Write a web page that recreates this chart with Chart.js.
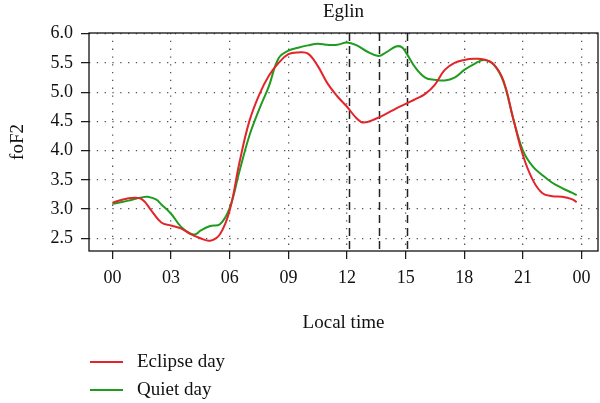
<!DOCTYPE html>
<html>
<head>
<meta charset="utf-8">
<script src="https://cdn.jsdelivr.net/npm/chart.js@4.4.0/dist/chart.umd.min.js"></script>
<style>
  html, body { margin: 0; padding: 0; background: #fff; }
</style>
</head>
<body>
<canvas id="foChart" width="600" height="403"></canvas>
<script>
// local time (h) and foF2 (MHz)
const eclipseHours = [0, 0.5, 1, 1.5, 2, 2.5, 3, 3.5, 4, 4.5, 5, 5.5, 6, 6.5, 7, 7.5, 8, 8.5, 9, 9.5, 10, 10.5, 11, 11.5, 12, 12.5, 12.85, 13.5, 14, 14.5, 15, 15.5, 16, 16.5, 17, 17.5, 18, 18.5, 19, 19.5, 20, 20.5, 21, 21.5, 22, 22.5, 23, 23.5, 23.75];
const eclipseFoF2 = [3.11, 3.16, 3.19, 3.17, 2.97, 2.77, 2.72, 2.67, 2.57, 2.50, 2.46, 2.57, 2.98, 3.80, 4.50, 4.95, 5.28, 5.50, 5.65, 5.68, 5.66, 5.45, 5.15, 4.93, 4.75, 4.55, 4.48, 4.55, 4.63, 4.72, 4.80, 4.88, 4.97, 5.13, 5.38, 5.50, 5.55, 5.57, 5.56, 5.48, 5.20, 4.55, 3.92, 3.50, 3.27, 3.22, 3.21, 3.17, 3.12];

const quietHours = [0, 0.5, 1, 1.5, 1.8, 2.25, 2.5, 3, 3.5, 4, 4.25, 4.5, 5, 5.5, 6, 6.5, 7, 7.5, 8, 8.5, 9, 9.5, 10, 10.5, 11, 11.5, 12, 12.5, 13, 13.6, 14, 14.5, 14.8, 15.05, 15.5, 16, 16.5, 17, 17.5, 18, 18.5, 19, 19.5, 20, 20.5, 21, 21.5, 22, 22.5, 23, 23.5, 23.75];
const quietFoF2 = [3.09, 3.12, 3.16, 3.20, 3.21, 3.16, 3.08, 2.92, 2.70, 2.58, 2.57, 2.63, 2.71, 2.74, 3.02, 3.65, 4.25, 4.70, 5.10, 5.58, 5.71, 5.76, 5.80, 5.83, 5.81, 5.81, 5.85, 5.80, 5.70, 5.62, 5.68, 5.78, 5.77, 5.66, 5.42, 5.25, 5.21, 5.20, 5.25, 5.38, 5.48, 5.55, 5.47, 5.18, 4.55, 4.00, 3.73, 3.58, 3.45, 3.36, 3.28, 3.24];

const xTicks = [0, 3, 6, 9, 12, 15, 18, 21, 24];
const yTicks = [2.5, 3.0, 3.5, 4.0, 4.5, 5.0, 5.5, 6.0];
// eclipse start, maximum, end
const eclipseTimes = [12.1, 13.63, 15.05];

const seriesNames = ["Eclipse day", "Quiet day"];
const seriesColors = ["#e3242b", "#1f9c1f"];

const serif = '"Liberation Serif", "DejaVu Serif", serif';

const toPoints = (xs, ys) => xs.map((x, i) => ({ x: x, y: ys[i] }));

const frame = {
  id: "frame",
  beforeDatasetsDraw(chart) {
    const { ctx, chartArea, scales } = chart;
    ctx.save();
    ctx.strokeStyle = "#222";
    ctx.lineWidth = 1.5;
    ctx.setLineDash([8, 5]);
    eclipseTimes.forEach((t) => {
      const px = Math.round(scales.x.getPixelForValue(t)) + 0.5;
      ctx.beginPath();
      ctx.moveTo(px, chartArea.top);
      ctx.lineTo(px, chartArea.bottom);
      ctx.stroke();
    });
    ctx.restore();
  },
  afterDraw(chart) {
    const { ctx, chartArea } = chart;
    ctx.save();
    ctx.strokeStyle = "#111";
    ctx.lineWidth = 1.3;
    ctx.strokeRect(chartArea.left, chartArea.top, chartArea.right - chartArea.left, chartArea.bottom - chartArea.top);

    const midX = (chartArea.left + chartArea.right) / 2;
    ctx.fillStyle = "#111";
    ctx.textAlign = "center";
    ctx.textBaseline = "middle";
    ctx.font = "19px " + serif;
    ctx.fillText("Eglin", midX, 12);
    ctx.fillText("Local time", midX, 323);

    ctx.save();
    ctx.translate(18, 142);
    ctx.rotate(-Math.PI / 2);
    ctx.fillText("foF2", 0, 0);
    ctx.restore();

    // legend
    const rows = [362, 390];
    ctx.textAlign = "left";
    rows.forEach((y, i) => {
      ctx.strokeStyle = seriesColors[i];
      ctx.lineWidth = 2;
      ctx.beginPath();
      ctx.moveTo(90, y);
      ctx.lineTo(123, y);
      ctx.stroke();
      ctx.fillStyle = "#111";
      ctx.fillText(seriesNames[i], 137, y);
    });
    ctx.restore();
  },
};

const gridOpts = {
  color: "#555",
  tickBorderDash: [],
  tickColor: "#111",
  tickLength: 8,
  tickWidth: 1.2,
  lineWidth: 1.3,
};

new Chart(document.getElementById("foChart"), {
  type: "line",
  data: {
    datasets: [
      {
        label: seriesNames[0],
        data: toPoints(eclipseHours, eclipseFoF2),
        borderColor: seriesColors[0],
        borderWidth: 2,
        pointRadius: 0,
        tension: 0.4,
      },
      {
        label: seriesNames[1],
        data: toPoints(quietHours, quietFoF2),
        borderColor: seriesColors[1],
        borderWidth: 2,
        pointRadius: 0,
        tension: 0.4,
      },
    ],
  },
  options: {
    responsive: false,
    animation: false,
    layout: { padding: { top: 33, right: 2, left: 0, bottom: 0 } },
    plugins: {
      legend: { display: false },
      title: { display: false },
      tooltip: { enabled: false },
    },
    scales: {
      x: {
        type: "linear",
        min: -1.2,
        max: 24.84,
        afterBuildTicks: (scale) => {
          scale.ticks = xTicks.map((v) => ({ value: v }));
        },
        afterFit: (scale) => {
          scale.height = 152;
        },
        ticks: {
          color: "#111",
          font: { family: serif, size: 18 },
          padding: 8,
          maxRotation: 0,
          callback: (v) => String(v % 24).padStart(2, "0"),
        },
        grid: gridOpts,
        border: { display: false, dash: [1.3, 6.5] },
      },
      y: {
        min: 2.283,
        max: 6.012,
        afterBuildTicks: (scale) => {
          scale.ticks = yTicks.map((v) => ({ value: v }));
        },
        afterFit: (scale) => {
          scale.width = 89;
        },
        ticks: {
          color: "#111",
          font: { family: serif, size: 18 },
          padding: 8,
          callback: (v) => v.toFixed(1),
        },
        grid: gridOpts,
        border: { display: false, dash: [1.3, 6.5] },
      },
    },
  },
  plugins: [frame],
});
</script>
</body>
</html>
